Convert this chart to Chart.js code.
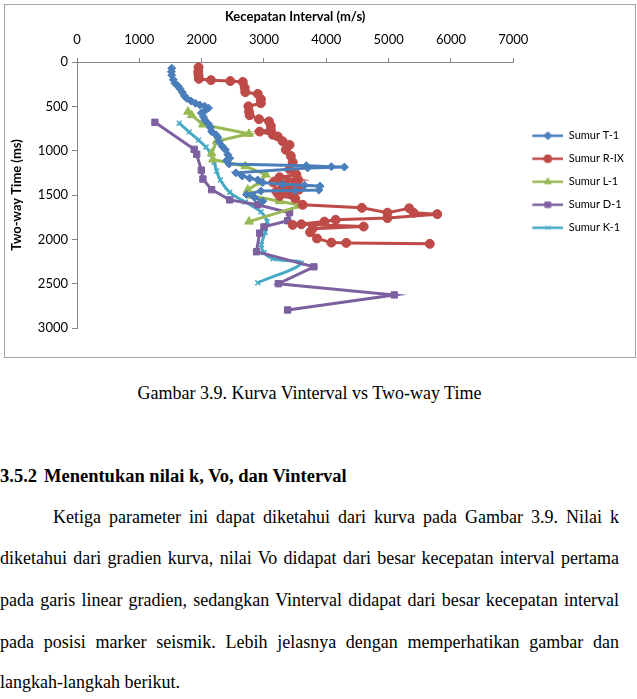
<!DOCTYPE html>
<html>
<head>
<meta charset="utf-8">
<script src="https://cdn.jsdelivr.net/npm/chart.js@4/dist/chart.umd.min.js"></script>
<style>
  html, body { margin: 0; padding: 0; background: #fff; }
  body { width: 637px; height: 699px; position: relative; overflow: hidden; }
  #box { position: absolute; left: 4px; top: 4px; width: 630px; height: 352px; border: 1px solid #a6a6a6; }
  .t { position: absolute; left: 0; width: 619px; font-family: "Liberation Serif", "Times New Roman", Times, serif;
       font-size: 18px; line-height: 22px; color: #000; white-space: nowrap; }
  .j { text-align: justify; text-align-last: justify; white-space: normal; }
</style>
</head>
<body>
<div id="box"><canvas id="chart"></canvas></div>

<div class="t" style="top:382px; text-align:center;">Gambar 3.9. Kurva Vinterval vs Two-way Time</div>
<div class="t" style="top:465px; font-weight:bold; font-size:18.5px;"><span style="display:inline-block; width:44px;">3.5.2</span>Menentukan nilai k, Vo, dan Vinterval</div>
<div class="t j" style="top:506px; padding-left:53px; width:566px;">Ketiga parameter ini dapat diketahui dari kurva pada Gambar 3.9. Nilai k</div>
<div class="t j" style="top:547px;">diketahui dari gradien kurva, nilai Vo didapat dari besar kecepatan interval pertama</div>
<div class="t j" style="top:589px;">pada garis linear gradien, sedangkan Vinterval didapat dari besar kecepatan interval</div>
<div class="t j" style="top:631px;">pada posisi marker seismik. Lebih jelasnya dengan memperhatikan gambar dan</div>
<div class="t" style="top:671px;">langkah-langkah berikut.</div>

<script>
/* Kurva Vinterval vs Two-way Time */

Chart.defaults.font.family = "'Lato', 'Open Sans', sans-serif";
Chart.defaults.color = '#000';

// ── Data: interval velocity (m/s) vs two-way time (ms) ──────────────────────

const T1_V = [1520, 1515, 1520, 1545, 1570, 1620, 1650, 1690, 1720, 1760, 1830, 1900, 1970, 2050, 2110, 2060,
  1995, 2030, 2050, 2110, 2140, 2160, 2230, 2260, 2280, 2330, 2380, 2420, 2450, 2400, 2440, 3680, 4080, 4290,
  3700, 2550, 2650, 2770, 2900, 2980, 3300, 3650, 3900, 3880, 3500, 2950, 2720, 2850, 2980];
const T1_T = [70, 110, 150, 200, 240, 270, 300, 340, 380, 410, 440, 465, 485, 500, 520, 545,
  575, 620, 655, 700, 740, 785, 820, 850, 900, 950, 990, 1045, 1085, 1110, 1150, 1170, 1180, 1185,
  1195, 1250, 1285, 1310, 1330, 1360, 1380, 1390, 1400, 1445, 1450, 1455, 1495, 1530, 1570];

const RIX_V = [1950, 1945, 1950, 1955, 2150, 2460, 2660, 2690, 2700, 2900, 2950, 2950, 2750, 2760, 2770, 2920,
  3080, 3110, 3110, 2930, 3140, 3220, 3300, 3410, 3350, 3430, 3460, 3410, 3520, 3250, 3550, 3150, 3500, 3300,
  3560, 3200, 3450, 3250, 3500, 3620, 4570, 4980, 5330, 5400, 5780, 4980, 4150, 3970, 3460, 3600, 4600, 3780,
  3740, 3850, 4080, 4320, 5660];
const RIX_T = [60, 110, 150, 190, 205, 215, 225, 290, 340, 360, 420, 465, 500, 560, 600, 645,
  670, 720, 765, 785, 820, 840, 895, 935, 990, 1060, 1130, 1210, 1270, 1300, 1330, 1360, 1380, 1410,
  1440, 1460, 1480, 1510, 1540, 1611, 1645, 1700, 1650, 1700, 1716, 1760, 1780, 1800, 1837, 1830, 1856, 1880,
  1920, 1990, 2037, 2040, 2051];

const L1_V = [1780, 1840, 2020, 2760, 2240, 2160, 2180, 2700, 3030, 2930, 2740, 2820, 3250, 3600, 2760];
const L1_T = [560, 600, 705, 810, 895, 1030, 1100, 1175, 1270, 1360, 1440, 1510, 1570, 1620, 1800];

const D1_V = [1250, 1880, 1920, 1995, 2020, 2160, 2450, 2900, 3410, 3380, 3000, 2930, 2880, 3800, 3230, 5090, 3380];
const D1_T = [680, 985, 1040, 1220, 1320, 1440, 1555, 1610, 1700, 1790, 1860, 1930, 2140, 2310, 2500, 2627, 2797];

const K1_V = [1640, 1800, 1950, 2070, 2150, 2200, 2240, 2300, 2450, 2700, 2950, 3050, 3020, 2960, 3000, 3150, 3600, 2900];
const K1_T = [690, 790, 880, 960, 1040, 1130, 1230, 1330, 1470, 1580, 1690, 1800, 1920, 2060, 2150, 2220, 2270, 2490];

const SERIES = ['Sumur T-1', 'Sumur R-IX', 'Sumur L-1', 'Sumur D-1', 'Sumur K-1'];

function pts(vs, ts) { return vs.map((v, i) => ({ x: v, y: ts[i] })); }

// ── Legend icon: short line with the marker in the middle ───────────────────

function legendIcon(color, style, radius) {
  const c = document.createElement('canvas');
  c.width = 38; c.height = 12;
  const g = c.getContext('2d');
  g.strokeStyle = color; g.fillStyle = color; g.lineWidth = 2.5;
  g.beginPath(); g.moveTo(7, 6); g.lineTo(38, 6); g.stroke();
  g.lineWidth = 1;
  Chart.helpers.drawPoint(g, { pointStyle: style, radius: Math.min(radius, 4), borderWidth: 1.5 }, 22.5, 6);
  return c;
}

function ds(label, data, color, style, radius, extra) {
  return Object.assign({
    label, data,
    showLine: true,
    borderColor: color,
    backgroundColor: color,
    borderWidth: 3,
    pointStyle: style,
    pointRadius: radius,
    pointBorderWidth: 1,
    pointHoverRadius: radius,
    tension: 0,
  }, extra || {});
}

const datasets = [
  ds(SERIES[0], pts(T1_V, T1_T), '#4a7ebb', 'rectRot', 4),
  ds(SERIES[1], pts(RIX_V, RIX_T), '#be4b48', 'circle', 4.5),
  ds(SERIES[2], pts(L1_V, L1_T), '#98b954', 'triangle', 5),
  ds(SERIES[3], pts(D1_V, D1_T), '#7d60a0', 'rect', 4.5),
  ds(SERIES[4], pts(K1_V, K1_T), '#46aac5', 'crossRot', 3.5, { pointBorderWidth: 1.5, tension: 0.4 }),
];

const axisColor = '#868686';

new Chart(document.getElementById('chart'), {
  type: 'scatter',
  data: { datasets },
  options: {
    responsive: true,
    maintainAspectRatio: false,
    animation: false,
    layout: { padding: { top: 0, left: 0, right: 1, bottom: 29 } },
    plugins: {
      tooltip: { enabled: false },
      legend: {
        position: 'right',
        align: 'start',
        title: { display: true, text: '', font: { size: 1 }, padding: { top: 112, bottom: 0 } },
        labels: {
          usePointStyle: true,
          pointStyleWidth: 38,
          padding: 12,
          font: { size: 11 },
          color: '#000',
          generateLabels: chart => chart.data.datasets.map((d, i) => ({
            text: d.label,
            datasetIndex: i,
            pointStyle: legendIcon(d.borderColor, d.pointStyle, d.pointRadius),
            fillStyle: d.borderColor,
            strokeStyle: d.borderColor,
            lineWidth: 0,
            hidden: false,
          })),
        },
      },
    },
    scales: {
      x: {
        type: 'linear',
        position: 'top',
        min: 0, max: 7000,
        ticks: { stepSize: 1000, padding: 10, font: { size: 13 }, callback: v => String(v) },
        grid: { drawOnChartArea: false, drawTicks: true, tickLength: 4, color: axisColor },
        border: { display: true, color: axisColor },
        title: { display: true, text: 'Kecepatan Interval (m/s)', font: { size: 13, weight: 'bold' }, padding: { top: 4, bottom: 0 } },
        afterFit: s => { s.height = 57; },
      },
      y: {
        type: 'linear',
        reverse: true,
        min: 0, max: 3000,
        ticks: { stepSize: 500, padding: 4, font: { size: 13 }, callback: v => String(v) },
        grid: { drawOnChartArea: false, drawTicks: true, tickLength: 5, color: axisColor },
        border: { display: true, color: axisColor },
        title: { display: true, text: 'Two-way Time (ms)', font: { size: 13, weight: 'bold' }, padding: { top: 4, bottom: 0 } },
        afterFit: s => { s.width = 72; },
      },
    },
  },
});
</script>
</body>
</html>
